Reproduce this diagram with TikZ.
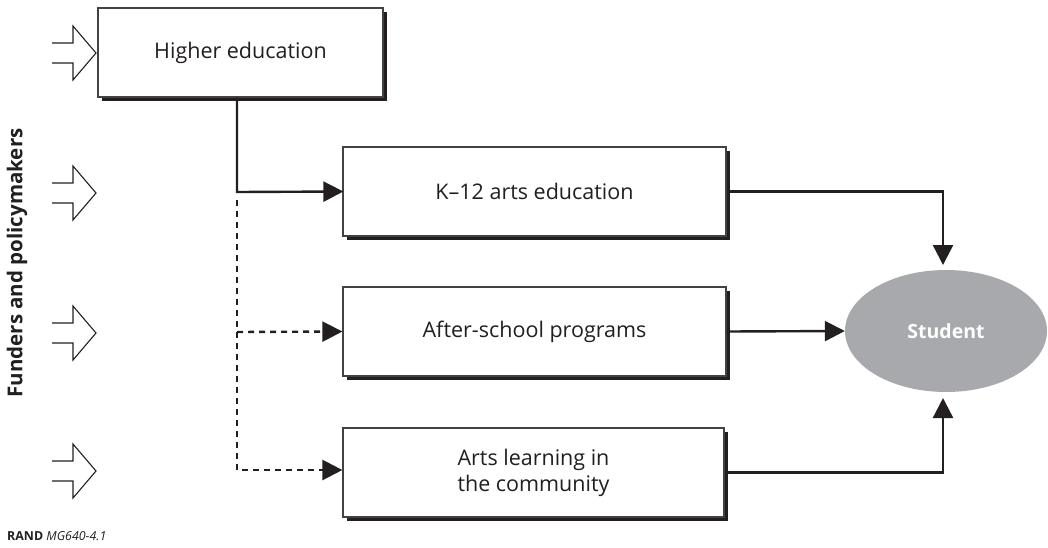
\documentclass[tikz,border=0pt]{standalone}
\usepackage{fontspec}
\setmainfont{Open Sans}
\usetikzlibrary{arrows.meta,shapes.geometric}
\definecolor{ink}{HTML}{231F20}
\definecolor{stud}{HTML}{A7A9AC}
\begin{document}
\begin{tikzpicture}[x=1pt,y=-1pt,
  boxnode/.style={draw=ink!85,line width=1.2pt,fill=white,text=ink,minimum height=89pt,
     align=center,font=\fontsize{21.5}{26}\selectfont,inner sep=0pt},
  shadowed/.style={preaction={fill=ink,transform canvas={shift={(4pt,-4pt)}}}},
  conn/.style={draw=ink,line width=2.4pt,-{Triangle[length=20pt,width=20pt]}},
  dashconn/.style={draw=ink,line width=2.4pt,dash pattern=on 6pt off 5pt,-{Triangle[length=20pt,width=20pt]}},
  hollow/.style={draw=ink,line width=1.1pt,line join=miter},
]
\useasboundingbox (0,0) rectangle (1048,547);

\node[boxnode,shadowed,minimum width=285pt] (he) at (240.5,52.5) {Higher education};
\node[boxnode,shadowed,minimum width=383pt] (k12) at (534.5,191.5) {K–12 arts education};
\node[boxnode,shadowed,minimum width=383pt] (as) at (534.5,331.5) {After-school programs};
\node[boxnode,shadowed,minimum width=381pt] (al) at (533.5,472.5) {Arts learning in\\the community};
\node[ellipse,fill=stud,minimum width=202pt,minimum height=122pt,inner sep=0pt,
  text=white,font=\fontsize{19.5}{23}\selectfont\bfseries] (st) at (946,331) {Student};

\coordinate (j1) at (237,192);
\coordinate (j2) at (237,332);
\coordinate (j3) at (237,470);
\coordinate (sn) at (943,265);
\coordinate (ss) at (943,398);

\draw[conn,shorten >=-1pt] (he.south -| j1) -- (j1) -- (k12.west);
\draw[dashconn] ([yshift=-8pt]j1) -- (j3) -- (al.west |- j3);
\draw[dashconn] (j2) -- (as.west);

\draw[conn] (k12.east) -| (sn);
\draw[conn] (as.east) -- (st.west);
\draw[conn] (al.east) -| (ss);

\foreach \c in {53,193,333,471}{
  \draw[hollow] (52,\c-10) -- (73,\c-10) -- (73,\c-27) -- (96,\c) -- (73,\c+27) -- (73,\c+10) -- (52,\c+10);
}

\node[rotate=90,text=ink,font=\fontsize{20.5}{24}\selectfont\bfseries] (fp) at (17,263) {Funders and policymakers};
\node[anchor=west,text=ink,inner sep=0pt,font=\fontsize{12.4}{14}\selectfont] (rand) at (7,536) {\textbf{RAND} \textit{MG640-4.1}};
\end{tikzpicture}
\end{document}
